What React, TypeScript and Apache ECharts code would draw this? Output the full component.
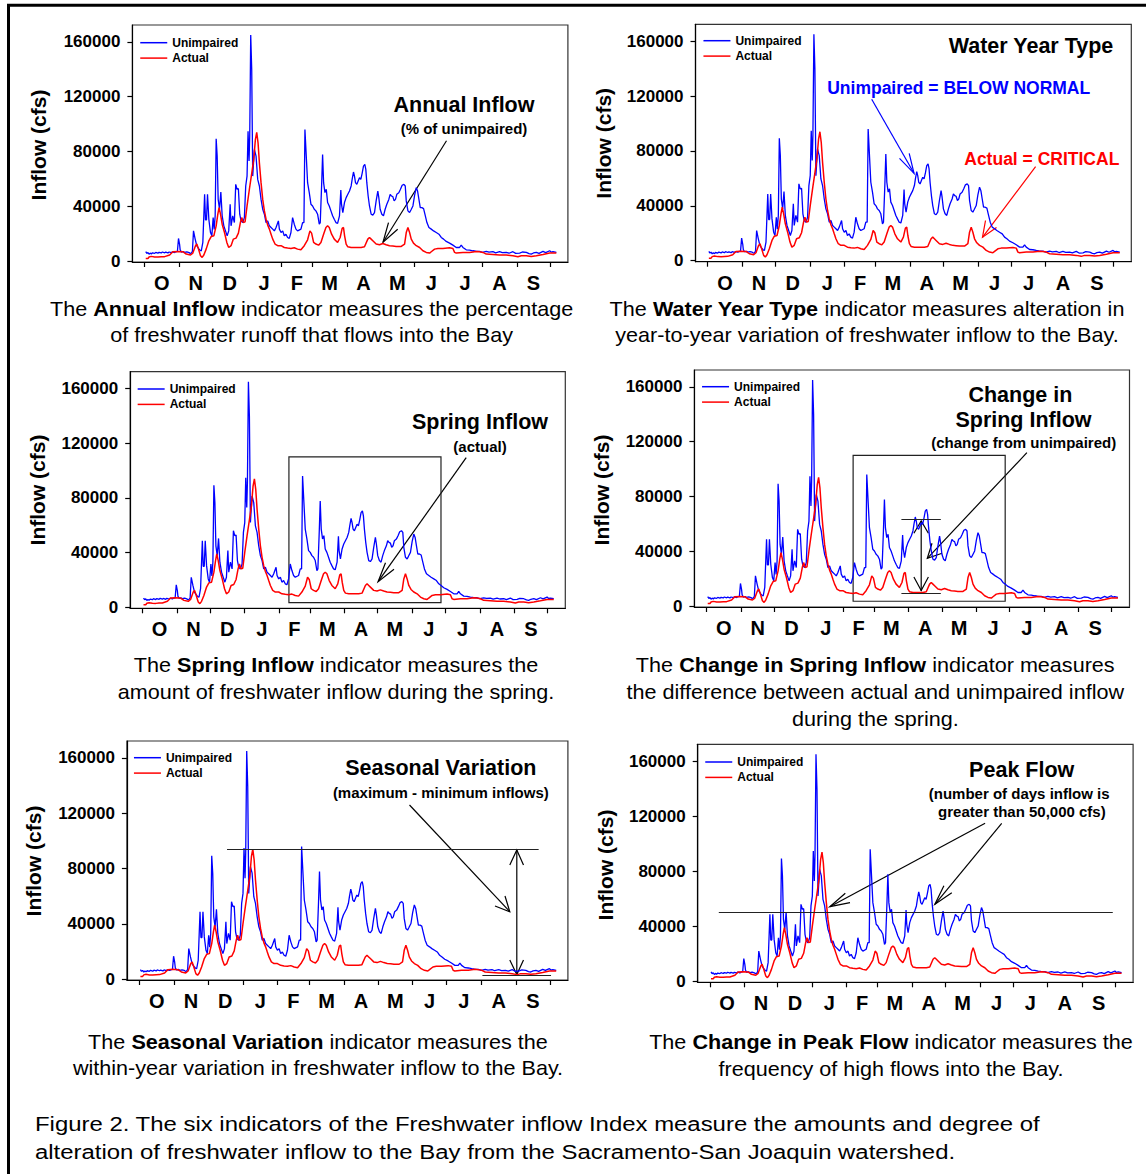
import React, { useEffect, useRef } from 'react';
import * as echarts from 'echarts';

// Water-year day (0 = Oct 1) boundaries of the months and their labels
const MONTH_BOUNDS = [0, 31, 61, 92, 123, 151, 182, 212, 243, 273, 304, 335, 365];
const MONTH_LABELS = ['O', 'N', 'D', 'J', 'F', 'M', 'A', 'M', 'J', 'J', 'A', 'S'];
const Y_TICKS = [0, 40000, 80000, 120000, 160000];

// Daily inflow (cfs): [water-year day, cfs]
const UNIMPAIRED: [number, number][] = [
  [1, 6800], [2, 5600], [3, 6200], [4, 5000], [5, 5800], [6, 5200], [7, 6000], [9, 5600], [10, 6300], [12, 5700],
  [13, 6400], [15, 5900], [16, 6600], [18, 6000], [19, 6500], [21, 5900], [22, 6600], [24, 6100], [25, 6700], [27, 6200],
  [28.4, 6800], [29.5, 7000], [30.5, 16500], [31.5, 12000], [32, 8200], [33, 6600], [35, 6900], [36, 6300], [38, 6700], [40, 6200],
  [41, 5600], [42, 5800], [43, 7000], [44, 22000], [45.5, 16000], [47, 11000], [49, 8700], [50, 7800], [51, 7500], [52.4, 13600],
  [54, 48700], [54.8, 30000], [55.7, 30000], [56.6, 48700], [57.8, 30500], [59.3, 20800], [60.5, 18400], [61.7, 31700], [62.6, 23000], [63.5, 33000],
  [64.4, 89200], [65.3, 76600], [66.2, 45000], [67.4, 37800], [68.6, 50400], [69.8, 33000], [71.3, 25700], [72.8, 22000], [74.3, 18400], [75.7, 22000],
  [77, 41500], [77.8, 25700], [79.3, 33000], [80.8, 28100], [82, 56000], [83.2, 52400], [84.4, 52800], [85.6, 34200], [86.8, 29300], [88.3, 28100],
  [89.8, 31700], [91, 54800], [92.2, 62000], [93.1, 94800], [94, 73000], [94.6, 91000], [95.5, 165000], [96.4, 139600], [97.3, 62000], [98.8, 81400],
  [100.3, 76600], [101.8, 59600], [103.3, 54800], [104.8, 45000], [106.3, 37800], [107.8, 34200], [109.3, 28100], [110.8, 29300], [112.3, 25700], [113.8, 24500],
  [115.3, 23300], [116.8, 22000], [118.3, 24500], [120.4, 29300], [121.3, 23300], [122.8, 20800], [124.3, 22000], [125.7, 18400], [127.2, 19600], [128.7, 17200],
  [130.2, 16500], [131.7, 20800], [133.2, 31700], [134.7, 26900], [136.2, 23300], [137.7, 22000], [140.7, 23300], [142.2, 28100], [143.4, 28100], [144.3, 96000],
  [145.2, 81400], [146.7, 57200], [148.2, 50000], [149.7, 41500], [151.2, 40200], [152.7, 37800], [154.2, 36600], [155.7, 34200], [157.2, 26900], [158.1, 28100],
  [159.3, 54800], [160.2, 77800], [161.1, 57200], [162.3, 50000], [163.5, 52400], [164.7, 42700], [166.2, 40200], [167.7, 36600], [169.2, 33000], [170.7, 30500],
  [172.2, 28100], [173.7, 27500], [175.4, 33000], [176.6, 51900], [177.2, 41500], [178.4, 35400], [179.9, 42700], [181.4, 46300], [182.9, 48700], [184.4, 51100],
  [185.9, 54800], [186.8, 59600], [188, 65000], [188.9, 62000], [189.8, 57200], [191, 56000], [192.2, 58400], [193.4, 60800], [194.6, 59600], [195.8, 64000],
  [197, 69300], [198.2, 70500], [199.1, 66900], [200, 57200], [201.2, 47500], [202.4, 40200], [203.9, 34200], [205.4, 33500], [206.9, 35400], [208.4, 43900],
  [209.9, 51100], [210.8, 46300], [212, 37800], [213.5, 34200], [215, 33000], [216.5, 37800], [218, 41500], [219.8, 45000], [221, 48700], [222.2, 47500],
  [223.4, 47000], [224.6, 43900], [225.8, 45000], [227, 48700], [228.8, 49900], [230.3, 52400], [231.8, 55300], [233.4, 56000], [234.6, 54800], [235.5, 43900],
  [237, 36600], [238.5, 35400], [239.7, 37300], [241.5, 40200], [243, 48000], [244.5, 53600], [245.7, 51100], [246.9, 45000], [248.1, 39000], [249.6, 39000],
  [251.1, 38300], [252.3, 34200], [254.1, 28100], [255.9, 24500], [258, 23300], [260.1, 22000], [262.5, 20800], [264.9, 19600], [267, 17200], [269.1, 16000],
  [271.5, 14300], [274.5, 13100], [277.5, 11600], [280.5, 9900], [283.5, 9900], [285, 11600], [286.5, 9900], [289.5, 8200], [292.5, 8000], [295.5, 7500],
  [298, 7200], [301.5, 7000], [304, 6300], [307.5, 7000], [310, 6500], [313.5, 6800], [316, 6000], [319.5, 6800], [322, 6100], [325.5, 6300],
  [328, 5700], [331.5, 6800], [334, 5600], [337.6, 5800], [340, 6600], [343.6, 6300], [346, 5400], [348, 5100], [350, 5900], [352.6, 6300],
  [355, 5600], [358.6, 7000], [361, 6200], [364.6, 7500], [366, 6500], [367.6, 6800], [370.6, 6300],
];

const ACTUAL: [number, number][] = [
  [1, 1900], [3, 1900], [4, 3000], [6, 3400], [9, 3000], [12, 2900], [15, 3100], [18, 3200], [22.5, 4400], [25.4, 6800],
  [30, 7000], [34.4, 6800], [37.4, 5100], [41.3, 4400], [43.4, 5800], [45.8, 11200], [47, 12400], [48.5, 8700], [50.3, 3900], [51.8, 2700],
  [53.3, 4400], [55.4, 8700], [57.8, 14800], [59.9, 17900], [62.3, 18400], [64.4, 25700], [65.9, 34200], [67, 39000], [68.3, 34200], [69.8, 26900],
  [71.9, 20800], [74, 13600], [75.7, 9900], [77.8, 11200], [79.9, 16000], [82.3, 16700], [84.4, 20400], [86.2, 28100], [87.4, 31700], [88.9, 28100],
  [90.4, 28600], [92.2, 40200], [94.3, 52400], [96.4, 64000], [98.2, 74200], [99.7, 88700], [100.9, 94000], [102.1, 86300], [103.3, 71700], [104.8, 57200],
  [106.3, 45000], [107.8, 36600], [109.3, 30500], [110.8, 26200], [112.3, 23300], [113.8, 19600], [115.3, 16000], [117.4, 12400], [119.8, 11200], [122.8, 11200],
  [125.7, 9900], [128.7, 9500], [131.7, 9200], [134.7, 9700], [137.7, 8700], [140.7, 8200], [143.7, 11200], [146.7, 15500], [148.8, 22000], [150.3, 20400],
  [152.1, 13600], [154.2, 12400], [156.6, 11600], [158.7, 13600], [161.1, 19600], [163.2, 24500], [164.7, 25700], [166.2, 24500], [168.3, 19600], [170.7, 16000],
  [173.7, 13600], [176, 17200], [177.8, 23800], [179, 24500], [180, 18400], [181.4, 12400], [182.9, 10400], [185.9, 9900], [190.4, 9900], [194.9, 9900],
  [197.9, 10400], [200.9, 16000], [202.4, 17200], [203.9, 16000], [205.4, 14800], [208.4, 12400], [211.4, 11900], [214.4, 12800], [217.4, 11900], [220.4, 11200],
  [223.4, 11000], [226.4, 10700], [231, 10700], [234, 12400], [235.5, 20800], [237, 24500], [238.5, 20800], [240, 16000], [242, 13100], [244.5, 11200],
  [247.5, 9900], [250.5, 7500], [253.5, 6300], [256.5, 5800], [258, 6800], [261, 8700], [264, 9200], [268.5, 9200], [274.5, 9700], [277.5, 9200],
  [279, 6300], [280.5, 5800], [286.5, 6300], [292.5, 6300], [298.5, 7000], [301.5, 6800], [304.5, 6300], [307.5, 5100], [313.5, 4800], [319.5, 4400],
  [325.5, 4400], [331.5, 3900], [336, 3200], [339, 3900], [343.6, 3900], [348, 3400], [352.6, 3900], [358.6, 4800], [364.6, 5800], [370.6, 5800],
];

// Annotation geometry in data units (days, cfs)
const SPRING_BOX = { x0: 132, x1: 269, y0: 3500, y1: 110000 };
const CHANGE_LINES = { x0: 175.5, x1: 211, hi: 63700, lo: 9700 };
const SEASON_LINES = { hi: 94000, hiX0: 78, hiX1: 355, lo: 2600, loX0: 305, loX1: 366 };
const PEAK_THRESHOLD = { y: 50000, x0: 8, x1: 362.7 };

const FONT = "'Liberation Sans', Arial, Helvetica, sans-serif";
const BLUE = '#0000ff';
const RED = '#ff0000';
const INK = '#000000';

const PANELS = [
  { grid: { left: 132.4, top: 25, width: 435.5, height: 237 }, legend: { left: 139.5, top: 36.7 }, yTitle: [38.8, 145] },
  { grid: { left: 695.5, top: 24.3, width: 435.8, height: 237.4 }, legend: { left: 702.7, top: 34.7 }, yTitle: [603.5, 143.3] },
  { grid: { left: 130.2, top: 371.7, width: 435.1, height: 236.6 }, legend: { left: 136.9, top: 383 }, yTitle: [37, 490] },
  { grid: { left: 694.4, top: 370, width: 435.1, height: 237 }, legend: { left: 701.3, top: 380.7 }, yTitle: [601.7, 490] },
  { grid: { left: 126.9, top: 741, width: 441, height: 239 }, legend: { left: 133.2, top: 751.7 }, yTitle: [33.3, 861] },
  { grid: { left: 697.7, top: 744.3, width: 435.4, height: 238 }, legend: { left: 704.5, top: 756 }, yTitle: [605.3, 865] },
];

const MONTH_MIDS = MONTH_LABELS.map((_, i) => (MONTH_BOUNDS[i] + MONTH_BOUNDS[i + 1]) / 2);

function monthLabel(v: number) {
  const i = MONTH_MIDS.findIndex((m) => Math.abs(m - v) < 0.01);
  return i >= 0 ? MONTH_LABELS[i] : '';
}

function txt(x: number, y: number, text: string, size: number, opts: any = {}) {
  return {
    type: 'text',
    x,
    y,
    silent: true,
    scaleX: opts.scaleX || 1,
    style: {
      text,
      fontSize: size,
      fontWeight: opts.weight || 'bold',
      fontFamily: FONT,
      fill: opts.color || INK,
      align: opts.align || 'center',
      verticalAlign: 'middle',
    },
  };
}

function richCaption(x: number, y: number, pre: string, bold: string, post: string) {
  const base = { fontSize: 20, fontFamily: FONT, fill: INK };
  const parts: string[] = [];
  if (pre) parts.push(`{n|${pre}}`);
  if (bold) parts.push(`{b|${bold}}`);
  if (post) parts.push(`{n|${post}}`);
  return {
    type: 'text',
    x,
    y,
    silent: true,
    scaleX: 1.08,
    style: {
      text: parts.join(''),
      align: 'center',
      verticalAlign: 'middle',
      fontSize: 20,
      fontFamily: FONT,
      fill: INK,
      rich: {
        n: { ...base, fontWeight: 'normal' },
        b: { ...base, fontWeight: 'bold' },
      },
    },
  };
}

function seg(x1: number, y1: number, x2: number, y2: number, color = INK) {
  return { type: 'line', silent: true, shape: { x1, y1, x2, y2 }, style: { stroke: color, lineWidth: 1.2 } };
}

function head(pts: number[][], color = INK) {
  return { type: 'polyline', silent: true, shape: { points: pts }, style: { stroke: color, lineWidth: 1.2, fill: 'none' } };
}

function buildOption() {
  const grids = PANELS.map((p) => ({
    ...p.grid,
    show: true,
    borderColor: '#333333',
    borderWidth: 1.2,
    backgroundColor: 'transparent',
    containLabel: false,
  }));

  const xAxes = PANELS.map((_, i) => ({
    type: 'value',
    gridIndex: i,
    min: -11,
    max: 381,
    axisLine: { show: true, onZero: false, lineStyle: { color: INK, width: 1.2 } },
    axisTick: { show: true, inside: false, length: 5, customValues: MONTH_BOUNDS, lineStyle: { color: INK, width: 1.2 } },
    axisLabel: {
      show: true,
      customValues: MONTH_MIDS,
      formatter: (v: number) => monthLabel(v),
      fontSize: 20,
      fontWeight: 'bold',
      fontFamily: FONT,
      color: INK,
      margin: 11,
    },
    splitLine: { show: false },
  }));

  const yAxes = PANELS.map((_, i) => ({
    type: 'value',
    gridIndex: i,
    min: -700,
    max: 172300,
    axisLine: { show: true, onZero: false, lineStyle: { color: INK, width: 1.2 } },
    axisTick: { show: true, inside: false, length: 5, customValues: Y_TICKS, lineStyle: { color: INK, width: 1.2 } },
    axisLabel: {
      show: true,
      customValues: Y_TICKS,
      formatter: (v: number) => (Y_TICKS.indexOf(v) >= 0 ? String(v) : ''),
      fontSize: 17,
      fontWeight: 'bold',
      fontFamily: FONT,
      color: INK,
      margin: 12,
    },
    splitLine: { show: false },
  }));

  const markLineBase = {
    silent: true,
    symbol: ['none', 'none'],
    label: { show: false },
    emphasis: { disabled: true },
    lineStyle: { color: '#222222', width: 1.2, type: 'solid' },
  };
  const markAreaBase = {
    silent: true,
    label: { show: false },
    emphasis: { disabled: true },
    itemStyle: { color: 'rgba(0,0,0,0)', borderColor: '#222222', borderWidth: 1.2 },
  };
  const springArea = {
    ...markAreaBase,
    data: [[{ coord: [SPRING_BOX.x0, SPRING_BOX.y1] }, { coord: [SPRING_BOX.x1, SPRING_BOX.y0] }]],
  };

  const extras: any[] = [
    {},
    {},
    { markArea: springArea },
    {
      markArea: springArea,
      markLine: {
        ...markLineBase,
        data: [
          [{ coord: [CHANGE_LINES.x0, CHANGE_LINES.hi] }, { coord: [CHANGE_LINES.x1, CHANGE_LINES.hi] }],
          [{ coord: [CHANGE_LINES.x0, CHANGE_LINES.lo] }, { coord: [CHANGE_LINES.x1, CHANGE_LINES.lo] }],
        ],
      },
    },
    {
      markLine: {
        ...markLineBase,
        data: [
          [{ coord: [SEASON_LINES.hiX0, SEASON_LINES.hi] }, { coord: [SEASON_LINES.hiX1, SEASON_LINES.hi] }],
          [{ coord: [SEASON_LINES.loX0, SEASON_LINES.lo] }, { coord: [SEASON_LINES.loX1, SEASON_LINES.lo] }],
        ],
      },
    },
    {
      markLine: {
        ...markLineBase,
        data: [[{ coord: [PEAK_THRESHOLD.x0, PEAK_THRESHOLD.y] }, { coord: [PEAK_THRESHOLD.x1, PEAK_THRESHOLD.y] }]],
      },
    },
  ];

  const series: any[] = [];
  PANELS.forEach((_, i) => {
    series.push({
      type: 'line',
      name: 'Unimpaired',
      xAxisIndex: i,
      yAxisIndex: i,
      data: UNIMPAIRED,
      showSymbol: false,
      symbol: 'none',
      silent: true,
      lineStyle: { color: BLUE, width: 1.3 },
      itemStyle: { color: BLUE },
      z: 2,
    });
    series.push({
      type: 'line',
      name: 'Actual',
      xAxisIndex: i,
      yAxisIndex: i,
      data: ACTUAL,
      showSymbol: false,
      symbol: 'none',
      silent: true,
      lineStyle: { color: RED, width: 1.5 },
      itemStyle: { color: RED },
      z: 3,
      ...extras[i],
    });
  });

  const legends = PANELS.map((p) => ({
    left: p.legend.left,
    top: p.legend.top,
    orient: 'vertical',
    padding: 0,
    itemWidth: 27,
    itemHeight: 12,
    itemGap: 3.4,
    selectedMode: false,
    itemStyle: { opacity: 0, borderWidth: 0 },
    lineStyle: { width: 1.5 },
    data: ['Unimpaired', 'Actual'],
    textStyle: { fontSize: 12, fontWeight: 'bold', fontFamily: FONT, color: INK, lineHeight: 12 },
  }));

  const graphic: any[] = [
    // outer figure frame
    {
      type: 'polyline',
      silent: true,
      shape: { points: [[8.5, 1185], [8.5, 5.3], [1160, 5.3]] },
      style: { stroke: INK, lineWidth: 3, fill: 'none' },
    },
  ];

  PANELS.forEach((p) => {
    graphic.push({
      type: 'text',
      x: p.yTitle[0],
      y: p.yTitle[1],
      rotation: Math.PI / 2,
      silent: true,
      style: {
        text: 'Inflow (cfs)',
        fontSize: 21,
        fontWeight: 'bold',
        fontFamily: FONT,
        fill: INK,
        align: 'center',
        verticalAlign: 'middle',
      },
    });
  });

  // Panel 1: Annual Inflow
  graphic.push(txt(464, 105, 'Annual Inflow', 21.5));
  graphic.push(txt(464, 128, '(% of unimpaired)', 15));
  graphic.push(seg(446.5, 140.7, 383, 242.3));
  graphic.push(head([[388.5, 222.7], [383, 242.3], [397.7, 229.3]]));

  // Panel 2: Water Year Type
  graphic.push(txt(1031, 45.7, 'Water Year Type', 21.5));
  graphic.push(txt(958.7, 88.3, 'Unimpaired = BELOW NORMAL', 17.5, { color: BLUE }));
  graphic.push(txt(1041.8, 159, 'Actual = CRITICAL', 17.5, { color: RED }));
  graphic.push(seg(871.7, 99.3, 914, 173.3, BLUE));
  graphic.push(head([[899.5, 158.3], [914, 173.3], [909.2, 153.3]], BLUE));
  graphic.push(seg(1035.6, 166.7, 982.5, 237.3, RED));
  graphic.push(head([[985.5, 220.5], [982.5, 237.3], [996.5, 227.5]], RED));

  // Panel 3: Spring Inflow
  graphic.push(txt(480, 422.3, 'Spring Inflow', 21.5));
  graphic.push(txt(480, 446.7, '(actual)', 15));
  graphic.push(seg(466.2, 457.7, 378.1, 581.7));
  graphic.push(head([[385.5, 562.7], [378.1, 581.7], [394, 569.3]]));

  // Panel 4: Change in Spring Inflow
  graphic.push(txt(1020.4, 395, 'Change in', 21.5));
  graphic.push(txt(1023.5, 420, 'Spring Inflow', 21.5));
  graphic.push(txt(1023.7, 442.7, '(change from unimpaired)', 15));
  graphic.push(seg(1026.9, 452.7, 927.3, 558.3));
  graphic.push(head([[932, 543.3], [927.3, 558.3], [942.1, 553.3]]));
  graphic.push(seg(921.2, 521, 921.2, 591));
  graphic.push(head([[913.9, 533.3], [921.2, 521], [928.4, 533.3]]));
  graphic.push(head([[913.9, 577], [921.2, 590.5], [928.4, 577]]));

  // Panel 5: Seasonal Variation
  graphic.push(txt(440.8, 768.3, 'Seasonal Variation', 21.5));
  graphic.push(txt(440.8, 792.7, '(maximum - minimum inflows)', 15));
  graphic.push(seg(409.5, 805, 509.8, 911.7));
  graphic.push(head([[495, 906], [509.8, 911.7], [505, 896]]));
  graphic.push(seg(516.8, 850, 516.8, 974.5));
  graphic.push(head([[509.8, 865], [516.8, 850], [523.5, 865]]));
  graphic.push(head([[509.8, 960], [516.8, 974.5], [523.5, 960]]));

  // Panel 6: Peak Flow
  graphic.push(txt(1021.7, 770, 'Peak Flow', 21.5));
  graphic.push(txt(1019.2, 793.3, '(number of days inflow is', 15));
  graphic.push(txt(1021.9, 811, 'greater than 50,000 cfs)', 15));
  graphic.push(seg(985.1, 823.3, 829.8, 906.7));
  graphic.push(head([[845.3, 893.3], [829.8, 906.7], [850, 902.7]]));
  graphic.push(seg(1001.7, 823.3, 934.9, 904.3));
  graphic.push(head([[943.9, 885.7], [934.9, 904.3], [951.8, 892.7]]));

  // Captions under each panel
  graphic.push(richCaption(311.7, 308.3, 'The ', 'Annual Inflow', ' indicator measures the percentage'));
  graphic.push(richCaption(311.7, 335, 'of freshwater runoff that flows into the Bay', '', ''));
  graphic.push(richCaption(867, 308.3, 'The ', 'Water Year Type', ' indicator measures alteration in'));
  graphic.push(richCaption(867, 335, 'year-to-year variation of freshwater inflow to the Bay.', '', ''));
  graphic.push(richCaption(336, 665, 'The ', 'Spring Inflow', ' indicator measures the'));
  graphic.push(richCaption(336, 691.7, 'amount of freshwater inflow during the spring.', '', ''));
  graphic.push(richCaption(875.3, 665, 'The ', 'Change in Spring Inflow', ' indicator measures'));
  graphic.push(richCaption(875.3, 691.7, 'the difference between actual and unimpaired inflow', '', ''));
  graphic.push(richCaption(875.3, 718.3, 'during the spring.', '', ''));
  graphic.push(richCaption(318, 1041.7, 'The ', 'Seasonal Variation', ' indicator measures the'));
  graphic.push(richCaption(318, 1067.3, 'within-year variation in freshwater inflow to the Bay.', '', ''));
  graphic.push(richCaption(891, 1041.7, 'The ', 'Change in Peak Flow', ' indicator measures the'));
  graphic.push(richCaption(891, 1068.3, 'frequency of high flows into the Bay.', '', ''));

  // Figure caption
  graphic.push(
    txt(35, 1124.5, 'Figure 2. The six indicators of the Freshwater inflow Index measure the amounts and degree of', 21, {
      weight: 'normal',
      align: 'left',
      scaleX: 1.14,
    })
  );
  graphic.push(
    txt(35, 1152.5, 'alteration of freshwater inflow to the Bay from the Sacramento-San Joaquin watershed.', 21, {
      weight: 'normal',
      align: 'left',
      scaleX: 1.14,
    })
  );

  return {
    animation: false,
    backgroundColor: '#ffffff',
    textStyle: { fontFamily: FONT },
    grid: grids,
    xAxis: xAxes,
    yAxis: yAxes,
    legend: legends,
    series,
    graphic,
  };
}

export default function App() {
  const ref = useRef<HTMLDivElement>(null);

  useEffect(() => {
    document.body.style.margin = '0';
    if (!ref.current) return;
    const chart = echarts.init(ref.current, null, { renderer: 'svg' });
    chart.setOption(buildOption() as any);
    return () => {
      chart.dispose();
    };
  }, []);

  return (
    <div
      ref={ref}
      style={{ position: 'absolute', left: 0, top: 0, width: 1146, height: 1174, background: '#ffffff' }}
    />
  );
}
